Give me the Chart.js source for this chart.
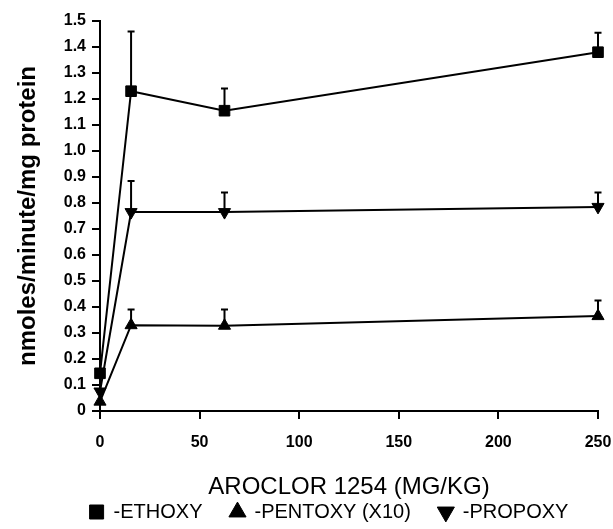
<!DOCTYPE html>
<html>
<head>
<meta charset="utf-8">
<script src="https://cdn.jsdelivr.net/npm/chart.js@4.4.1/dist/chart.umd.min.js"></script>
<style>
  html, body { margin: 0; padding: 0; background: #fff; }
  canvas { display: block; }
</style>
</head>
<body>
<canvas id="aroclorChart" width="613" height="529"></canvas>
<script>
  // doses of aroclor 1254 (mg/kg)
  var doses = [0, 15.6, 62.5, 250];
  var seriesNames = ['ETHOXY', 'PENTOXY (X10)', 'PROPOXY'];
  // nmoles/minute/mg protein, upper error bar only
  var ethoxy = [0.145, 1.23, 1.155, 1.38];
  var ethoxyErr = [0, 0.23, 0.085, 0.075];
  var pentoxy = [0.036, 0.33, 0.328, 0.365];
  var pentoxyErr = [0, 0.06, 0.062, 0.06];
  var propoxy = [0.075, 0.765, 0.765, 0.785];
  var propoxyErr = [0, 0.12, 0.075, 0.055];

  Chart.defaults.font.family = "'Liberation Sans', Arial, sans-serif";
  Chart.defaults.color = '#000';

  function points(vals){
    return vals.map(function(v, i){ return {x: doses[i], y: v}; });
  }

  // draws the upper error bars with a small cap, under the markers
  var errorBars = {
    id: 'errorBars',
    beforeDatasetsDraw: function(chart){
      var ctx = chart.ctx;
      var xs = chart.scales.x, ys = chart.scales.y;
      ctx.save();
      ctx.strokeStyle = '#000';
      ctx.lineWidth = 2;
      chart.data.datasets.forEach(function(ds){
        ds.data.forEach(function(pt, i){
          var e = ds.errors[i];
          if (!e) return;
          var px = xs.getPixelForValue(pt.x);
          var y0 = ys.getPixelForValue(pt.y);
          var y1 = ys.getPixelForValue(pt.y + e);
          ctx.beginPath();
          ctx.moveTo(px, y0);
          ctx.lineTo(px, y1);
          ctx.moveTo(px - 3.5, y1);
          ctx.lineTo(px + 3.5, y1);
          ctx.stroke();
        });
      });
      ctx.restore();
    }
  };

  function makeSet(name, vals, errs, style, rot, r){
    return {
      label: name,
      data: points(vals),
      errors: errs,
      borderColor: '#000',
      backgroundColor: '#000',
      borderWidth: 2,
      pointStyle: style,
      rotation: rot,
      pointRadius: r,
      pointBorderWidth: 1,
      fill: false,
      tension: 0,
      clip: false
    };
  }

  var ctx_chart = document.getElementById('aroclorChart');
  var chart = new Chart(ctx_chart, {
    type: 'line',
    data: {
      datasets: [
        makeSet(seriesNames[0], ethoxy, ethoxyErr, 'rect', 0, 7.5),
        makeSet(seriesNames[1], pentoxy, pentoxyErr, 'triangle', 0, 7),
        makeSet(seriesNames[2], propoxy, propoxyErr, 'triangle', 180, 7)
      ]
    },
    options: {
      responsive: false,
      animation: false,
      devicePixelRatio: 1,
      layout: { padding: { top: 21, right: 15, bottom: -3, left: 60 } },
      scales: {
        x: {
          type: 'linear',
          min: 0,
          max: 250,
          afterFit: function(scale){
            scale.height = 63;
            scale.paddingRight = 0;
            scale.paddingLeft = 0;
          },
          ticks: {
            stepSize: 50,
            padding: 14,
            font: { size: 16, weight: 'bold' }
          },
          grid: { drawOnChartArea: false, drawTicks: true, tickLength: 8, color: '#000', lineWidth: 2 },
          border: { display: true, color: '#000', width: 2 },
          title: {
            display: true,
            text: 'AROCLOR 1254 (MG/KG)',
            font: { size: 24 },
            padding: { top: 0, bottom: -28 }
          }
        },
        y: {
          min: 0,
          max: 1.5,
          afterFit: function(scale){ scale.width = 40; },
          ticks: {
            stepSize: 0.1,
            padding: 6,
            font: { size: 16, weight: 'bold' },
            callback: function(v){ return v === 0 ? '0' : v.toFixed(1); }
          },
          grid: { drawOnChartArea: false, drawTicks: true, tickLength: 8, color: '#000', lineWidth: 2 },
          border: { display: true, color: '#000', width: 2 },
          title: {
            display: true,
            text: 'nmoles/minute/mg protein',
            font: { size: 24, weight: 'bold' },
            padding: { top: -46, bottom: 0 }
          }
        }
      },
      plugins: {
        tooltip: { enabled: false },
        legend: {
          display: true,
          position: 'bottom',
          labels: {
            usePointStyle: true,
            boxWidth: 14,
            boxHeight: 14,
            padding: 28,
            font: { size: 20 },
            generateLabels: function(c){
              var items = Chart.defaults.plugins.legend.labels.generateLabels(c);
              items.forEach(function(it){ it.text = '-' + it.text; });
              return items;
            }
          }
        }
      }
    },
    plugins: [errorBars]
  });
</script>
</body>
</html>
